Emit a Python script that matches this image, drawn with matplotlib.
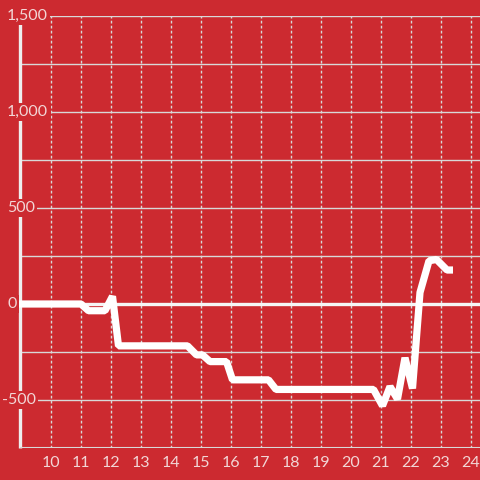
import matplotlib
matplotlib.use("Agg")
import matplotlib.pyplot as plt

# hourly series (hour of day, value)
hours = [8.9, 11.0, 11.25, 11.8, 12.05, 12.25, 14.55, 14.85, 15.05, 15.3, 15.85,
         16.05, 17.25, 17.5, 20.75, 21.05, 21.3, 21.55, 21.8, 22.05, 22.3, 22.6,
         22.85, 23.2, 23.4]
values = [0, 0, -35, -35, 40, -218, -218, -265, -265, -300, -300,
          -395, -395, -445, -445, -530, -430, -495, -280, -440, 60, 225,
          232, 177, 177]

x_ticks = list(range(10, 25))
y_major = [1500, 1000, 500, 0, -500]
y_minor = [1250, 750, 250, -250]
y_labels = ["1,500", "1,000", "500", "0", "-500"]

BG = "#cc2a30"
TXT = "#f2d6d6"
GRID = "#d8d8d8"

plt.rcParams["font.family"] = ["Lato", "DejaVu Sans"]

fig = plt.figure(figsize=(4.8, 4.8), dpi=100, facecolor=BG)
ax = fig.add_axes([20 / 480, 32 / 480, 460 / 480, 432 / 480])
ax.set_facecolor(BG)
ax.set_xlim(8.967, 24.3)
ax.set_ylim(-750, 1500)

for s in ax.spines.values():
    s.set_visible(False)
ax.set_xticks([])
ax.set_yticks([])

# vertical dashed grid
for h in x_ticks:
    ax.axvline(h, color=GRID, lw=1, ls=(0, (2, 1.6)), zorder=1)
    ax.annotate(str(h), xy=(h, -750), xycoords="data", xytext=(0, -8),
                textcoords="offset pixels", ha="center", va="top",
                fontsize=11.5, color=TXT, annotation_clip=False)

# horizontal grid
for v in y_minor + y_major:
    if v == 0:
        continue
    ax.axhline(v, color=GRID, lw=1, zorder=1)
ax.plot([8.87, 24.3], [0, 0], color="#f5f5f5", lw=2.4, zorder=2, clip_on=False,
        solid_capstyle="butt")

# axes lines
ax.plot([8.967, 8.967], [-750, 1500], color="#eeeeee", lw=2.4, zorder=3,
        clip_on=False, solid_capstyle="butt")
ax.axhline(-750, color=GRID, lw=1.5, zorder=3)

# y labels with background box (hides axis + grid behind)
for v, lab in zip(y_major, y_labels):
    off = -5 if v < 0 else 0
    ax.annotate(lab, xy=(0, v), xycoords=("axes fraction", "data"),
                xytext=(-13 + off, 0), textcoords="offset pixels",
                ha="left", va="center", fontsize=11.5, color=TXT, zorder=5,
                annotation_clip=False,
                bbox=dict(boxstyle="square,pad=0.15", fc=BG, ec="none"))

ax.plot(hours, values, color="white", lw=5.2, zorder=4, clip_on=False,
        solid_joinstyle="bevel", solid_capstyle="butt")

fig.savefig("out.png", dpi=100, facecolor=BG)
